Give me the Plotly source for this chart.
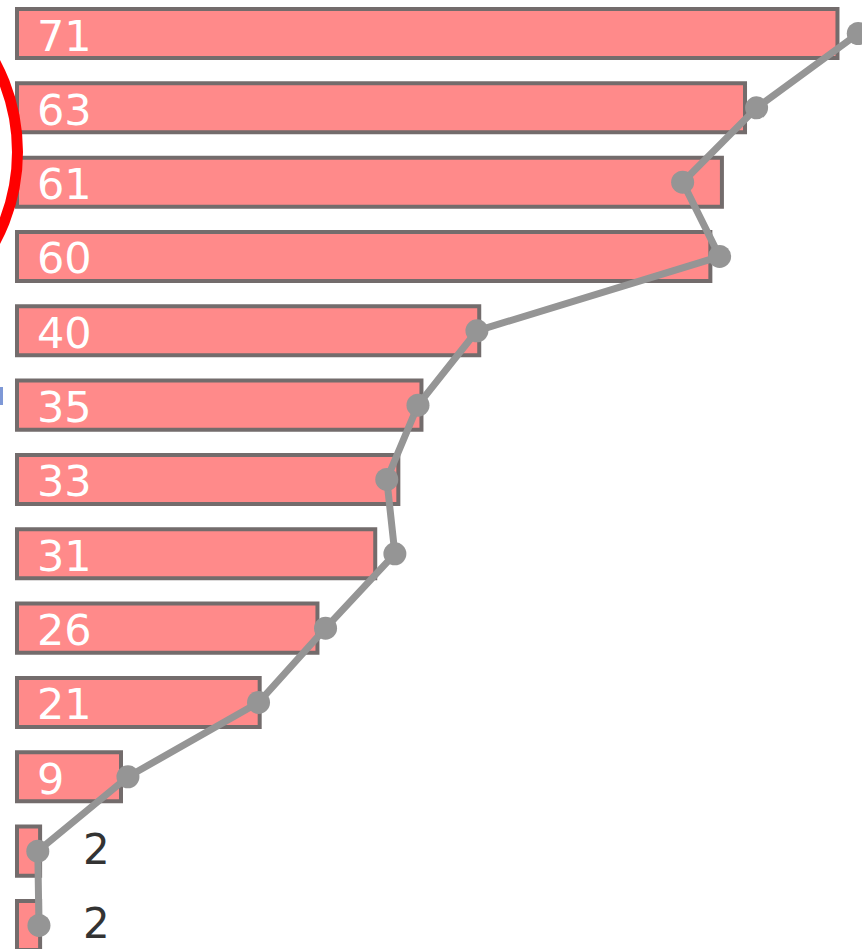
import plotly.graph_objects as go

# data
categories = list(range(13))
bar_values = [71, 63, 61, 60, 40, 35, 33, 31, 26, 21, 9, 2, 2]
line_values = [72.8, 64.0, 57.6, 60.8, 39.8, 34.7, 32.0, 32.7, 26.7, 20.9, 9.6, 1.8, 1.9]

W, H = 862, 949
PX_PER_UNIT = 11.556
ZERO_PX = 17
ROW_PX = 74.33
ROW0_PX = 33.5

fig = go.Figure()
fig.add_trace(go.Bar(
    x=bar_values, y=categories, orientation="h", width=0.66,
    marker=dict(color="#ff8a8a", line=dict(color="#736c6c", width=4)),
    hoverinfo="skip", showlegend=False,
))
fig.add_trace(go.Scatter(
    x=line_values, y=categories, mode="lines+markers",
    line=dict(color="#959595", width=7),
    marker=dict(color="#959595", size=23),
    cliponaxis=False, hoverinfo="skip", showlegend=False,
))

annotations = []
for c, v in zip(categories, bar_values):
    if v >= 5:
        annotations.append(dict(x=0, y=c, xref="x", yref="y", text=str(v), showarrow=False,
                                xanchor="left", xshift=18, yshift=-2, height=40,
                                font=dict(family="DejaVu Sans", size=43, color="white")))
    else:
        annotations.append(dict(x=v, y=c, xref="x", yref="y", text=str(v), showarrow=False,
                                xanchor="left", xshift=41, yshift=2, height=40,
                                font=dict(family="DejaVu Sans", size=42, color="#333333")))

shapes = [
    # red circle partially visible at left edge
    dict(type="circle", xref="paper", yref="paper",
         x0=(-172.5 - 190) / W, x1=(-172.5 + 190) / W,
         y0=1 - (152 + 190) / H, y1=1 - (152 - 190) / H,
         line=dict(color="#ff0000", width=11)),
    # tiny blue mark at left edge
    dict(type="rect", xref="paper", yref="paper",
         x0=0, x1=3 / W, y0=1 - 405 / H, y1=1 - 387 / H,
         line=dict(width=0), fillcolor="#7e98d6"),
]

fig.update_layout(
    width=W, height=H, margin=dict(l=0, r=0, t=0, b=0),
    paper_bgcolor="white", plot_bgcolor="white",
    xaxis=dict(range=[-ZERO_PX / PX_PER_UNIT, (W - ZERO_PX) / PX_PER_UNIT], visible=False, fixedrange=True),
    yaxis=dict(range=[(H - ROW0_PX) / ROW_PX, -ROW0_PX / ROW_PX], visible=False, fixedrange=True),
    annotations=annotations, shapes=shapes, bargap=0.3,
)

fig.write_html("out.html", config={"displayModeBar": False},
               post_script="document.body.style.margin='0';document.body.style.overflow='hidden';")
